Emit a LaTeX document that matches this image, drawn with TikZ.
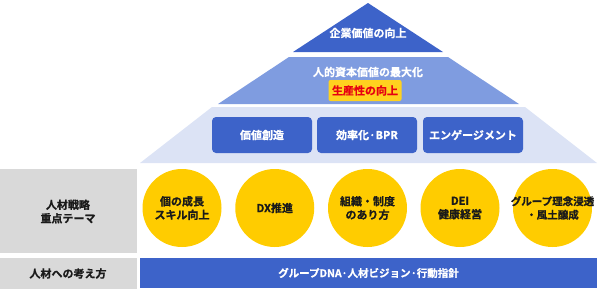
\documentclass[tikz,border=0pt]{standalone}
\usepackage{fontspec}
\setmainfont{Noto Sans CJK JP}[BoldFont={* Bold},BoldFeatures={FakeBold=0.8}]
\usetikzlibrary{shapes.geometric}
\definecolor{dblue}{HTML}{3D63C9}
\definecolor{mblue}{HTML}{7F9CE0}
\definecolor{lblue}{HTML}{DCE3F5}
\definecolor{gbox}{HTML}{D9D9D9}
\definecolor{ycirc}{HTML}{FFCC00}
\definecolor{ylab}{HTML}{FFD21F}
\definecolor{rtext}{HTML}{E60012}
\definecolor{ktext}{HTML}{1A1A1A}
\tikzset{
  wtext/.style={text=white,font=\bfseries\fontsize{11}{13.5}\selectfont,align=center,inner sep=0pt},
  ktxt/.style={text=ktext,font=\bfseries\fontsize{11}{13.5}\selectfont,align=center,inner sep=0pt},
  bluebox/.style={fill=dblue,rounded corners=4pt,draw=none},
  theme/.style={ellipse,fill=ycirc,minimum width=79pt,minimum height=78pt,inner sep=0pt},
  graybox/.style={fill=gbox,draw=none}
}
\begin{document}
\begin{tikzpicture}[x=1pt,y=-1pt]
\useasboundingbox (0,0) rectangle (603,289);
% pyramid
\fill[dblue] (368,3) -- (443,52) -- (293,52) -- cycle;
\fill[mblue] (289,57) -- (448,57) -- (519,104) -- (218,104) -- cycle;
\fill[lblue] (212,107) -- (525,107) -- (597,163) -- (140,163) -- cycle;
\node[wtext] (top) at (368,33) {企業価値の向上};
\node[wtext] (mid) at (368,72) {人的資本価値の最大化};
\node[fill=ylab,rounded corners=2pt,minimum width=73pt,minimum height=21pt,inner sep=0pt,
      text=rtext,font=\bfseries\fontsize{11}{13}\selectfont] (prod) at (365,90.5) {生産性の向上};
% three boxes
\fill[bluebox] (212,117) rectangle (312,153);
\fill[bluebox] (317,117) rectangle (417,153);
\fill[bluebox] (423,117) rectangle (523,153);
\node[wtext] (b1) at (262,135) {価値創造};
\node[wtext] (b2) at (367,135) {効率化·BPR};
\node[wtext] (b3) at (473,135) {エンゲージメント};
% gray labels
\fill[graybox] (0,169) rectangle (137,253);
\fill[graybox] (0,258) rectangle (137,289);
\node[ktxt] (g1) at (68,211.5) {人材戦略\\重点テーマ};
\node[ktxt] (g2) at (68,273.5) {人材への考え方};
% themes
\node[theme] (c1) at (182,208) {};
\node[theme] (c2) at (274.75,208) {};
\node[theme] (c3) at (367.5,208) {};
\node[theme] (c4) at (460,208) {};
\node[theme] (c5) at (552.5,208) {};
\node[ktxt] (t1) at (c1.center) {個の成長\\スキル向上};
\node[ktxt] (t2) at (c2.center) {DX推進};
\node[ktxt] (t3) at (c3.center) {組織・制度\\のあり方};
\node[ktxt] (t4) at (c4.center) {DEI\\健康経営};
\node[ktxt,font=\bfseries\fontsize{10.5}{13.5}\selectfont] (t5) at (c5.center) {グループ理念浸透\\・風土醸成};
% bottom bar
\fill[dblue] (140,258) rectangle (597,288);
\node[wtext,font=\bfseries\fontsize{10.5}{13}\selectfont] (bar) at (368.5,273) {グループDNA·人材ビジョン·行動指針};
\end{tikzpicture}
\end{document}
